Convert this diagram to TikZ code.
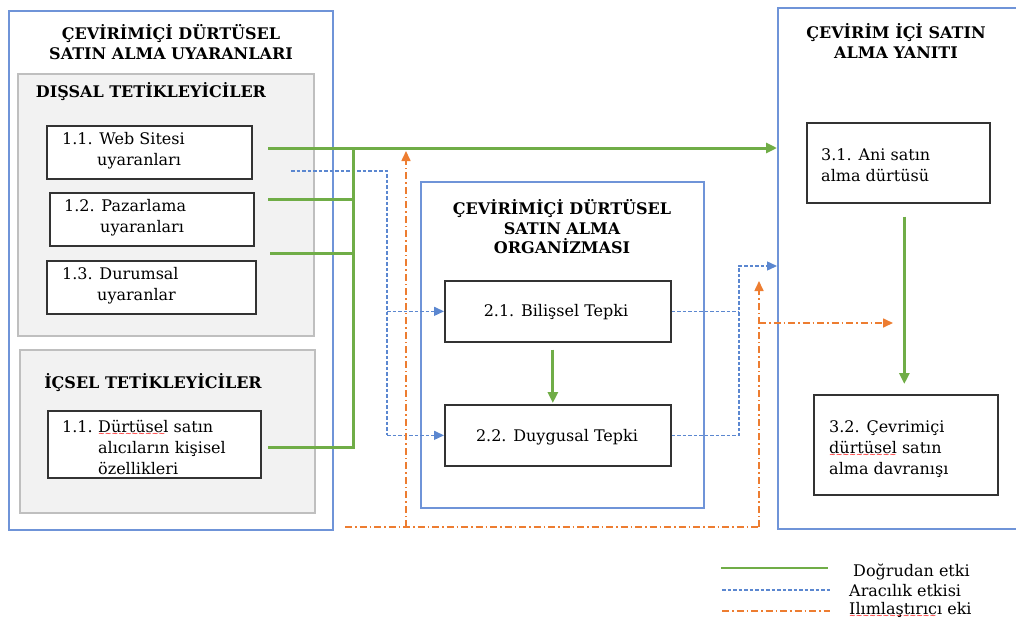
\documentclass[tikz,border=0pt]{standalone}
\usepackage{fontspec}
\setmainfont{DejaVu Serif}
\usetikzlibrary{arrows.meta}
\definecolor{cframe}{HTML}{6F94D8}
\definecolor{cblue}{HTML}{5B87D0}
\definecolor{cgreen}{HTML}{70AD47}
\definecolor{corange}{HTML}{ED7D31}
\definecolor{cgrayfill}{HTML}{F2F2F2}
\definecolor{cgrayline}{HTML}{BFBFBF}
\newsavebox\wavebox
\newcommand\redwave[1]{\sbox\wavebox{#1}\rlap{\raisebox{-4pt}{\color{red}\fontsize{8}{8}\selectfont\leaders\hbox{∼}\hskip\wd\wavebox}}#1}
\tikzset{
  frame/.style={draw=cframe, line width=1.9pt, anchor=north west, inner sep=0},
  graybox/.style={draw=cgrayline, fill=cgrayfill, line width=1.8pt, anchor=north west, inner sep=0},
  itembox/.style={draw=black!80, fill=white, line width=1.7pt, anchor=north west, inner sep=0},
  ttl/.style={font=\fontsize{16}{19.5}\selectfont\bfseries, align=center, inner sep=0},
  txt/.style={font=\fontsize{16}{21}\selectfont, align=left, inner sep=0, anchor=west},
  direct/.style={draw=cgreen, line width=3pt},
  med/.style={draw=cblue, line width=1.4pt, dash pattern=on 3.5pt off 2pt},
  moder/.style={draw=corange, line width=1.6pt, dash pattern=on 7pt off 3pt on 1.5pt off 3pt},
  gtip/.style={-{Triangle[length=11pt,width=10pt]}},
  stip/.style={-{Triangle[length=10pt,width=9pt]}},
}
\begin{document}
\begin{tikzpicture}[x=1pt,y=-1pt]
\useasboundingbox (0,0) rectangle (1016,624);

% frames
\node[frame, minimum width=324, minimum height=519] (F1) at (8,10) {};
\node[frame, minimum width=283, minimum height=326] (F2) at (420,181) {};
\node[frame, minimum width=260, minimum height=521] (F3) at (777,7) {};

% titles
\node[ttl] (t1) at (171,42) {ÇEVİRİMİÇİ DÜRTÜSEL\\SATIN ALMA UYARANLARI};
\node[ttl] (t2) at (562,227) {ÇEVİRİMİÇİ DÜRTÜSEL\\SATIN ALMA\\ORGANİZMASI};
\node[ttl] (t3) at (896,41) {ÇEVİRİM İÇİ SATIN\\ALMA YANITI};

% gray groups
\node[graybox, minimum width=296, minimum height=262] (G1) at (17,73) {};
\node[graybox, minimum width=295, minimum height=163] (G2) at (19,349) {};
\node[ttl] (h1) at (151,92) {DIŞSAL TETİKLEYİCİLER};
\node[ttl] (h2) at (153,383) {İÇSEL TETİKLEYİCİLER};

% item boxes
\node[itembox, minimum width=205, minimum height=53] (b11) at (46,125) {};
\node[itembox, minimum width=204, minimum height=53] (b12) at (49,192) {};
\node[itembox, minimum width=209, minimum height=53] (b13) at (46,260) {};
\node[itembox, minimum width=213, minimum height=67] (b14) at (47,410) {};
\node[itembox, minimum width=226, minimum height=61] (b21) at (444,280) {};
\node[itembox, minimum width=226, minimum height=61] (b22) at (444,404) {};
\node[itembox, minimum width=183, minimum height=80] (b31) at (806,122) {};
\node[itembox, minimum width=184, minimum height=100] (b32) at (813,394) {};

% texts
\node[txt] (x11) at (62,151) {1.1. Web Sitesi\\\hspace*{35pt}uyaranları};
\node[txt] (x12) at (64,218) {1.2. Pazarlama\\\hspace*{36pt}uyaranları};
\node[txt] (x13) at (62,286) {1.3. Durumsal\\\hspace*{35pt}uyaranlar};
\node[txt] (x14) at (62,447) {\makebox[36pt][l]{1.1.}\redwave{Dürtüsel} satın\\\hspace*{36pt}alıcıların kişisel\\\hspace*{36pt}özellikleri};
\node[txt, anchor=center] (x21) at (556,312) {2.1. Bilişsel Tepki};
\node[txt, anchor=center] (x22) at (557,437) {2.2. Duygusal Tepki};
\node[txt] (x31) at (821,165) {3.1. Ani satın\\alma dürtüsü};
\node[txt] (x32) at (829,449) {3.2. Çevrimiçi\\\redwave{dürtüsel} satın\\alma davranışı};

% junction coordinates
\coordinate (g1) at (268,148);
\coordinate (g2) at (268,199);
\coordinate (g3) at (270,253);
\coordinate (g4) at (268,447);
\coordinate (j1) at (353,148);
\coordinate (j4) at (353,447);
\coordinate (m0) at (291,171);
\coordinate (m1) at (387,171);
\coordinate (n1) at (739,266);
\coordinate (o0) at (345,527);
\coordinate (o1) at (406,527);
\coordinate (o2) at (759,527);
\coordinate (o3) at (759,323);
\coordinate (o4) at (893,323);

% mediating (blue dashed)
\draw[med] (m0) -- (m1) -- (m1 |- b22.west);
\draw[med, stip] (m1 |- b21.west) -- (b21.west);
\draw[med, stip] (m1 |- b22.west) -- (b22.west);
\draw[med] (b21.east) -- (b21.east -| n1);
\draw[med, stip] (b22.east) -| (n1) -- (F3.west |- n1);

% moderating (orange dash-dot)
\draw[moder] (o0) -- (o2);
\draw[moder, stip] (o1) -- ++(0,-376);
\draw[moder, stip] (o2) -- ++(0,-246);
\draw[moder, stip] (o3) -- (o4);

% direct (green)
\draw[direct] (g2) -- (j1 |- g2);
\draw[direct] (g3) -- (j1 |- g3);
\draw[direct] (g4) -- (j4) -- (j1);
\draw[direct, gtip] (g1) -- (F3.west |- g1);
\draw[direct, gtip, shorten <=7pt, shorten >=1pt] ([xshift=-5pt]b21.south) -- ([xshift=-5pt]b22.north);
\draw[direct, gtip, shorten <=13pt, shorten >=10pt] ([xshift=6pt]b31.south) -- ([xshift=6pt]b31.south |- b32.north);

% legend
\coordinate (l1a) at (721,568); \coordinate (l1b) at (828,568);
\coordinate (l2a) at (722,590); \coordinate (l2b) at (830,590);
\coordinate (l3a) at (722,611); \coordinate (l3b) at (830,611);
\draw[direct, line width=2.4pt] (l1a) -- (l1b);
\draw[med] (l2a) -- (l2b);
\draw[moder] (l3a) -- (l3b);
\node[txt] (lt1) at (853,572) {Doğrudan etki};
\node[txt] (lt2) at (849,591) {Aracılık etkisi};
\node[txt] (lt3) at (849,610) {\redwave{Ilımlaştırıcı} eki};
\end{tikzpicture}
\end{document}
